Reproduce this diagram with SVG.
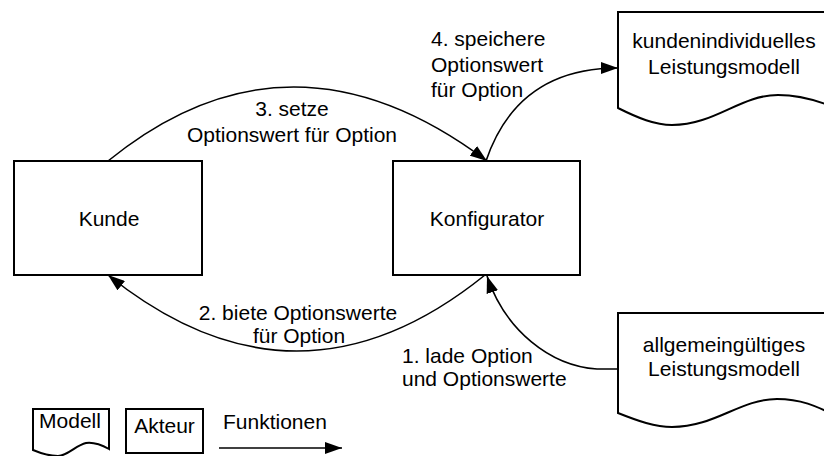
<svg xmlns="http://www.w3.org/2000/svg" width="824" height="456" viewBox="0 0 824 456">
  <style>
    text { font-family: "Liberation Sans", Arial, sans-serif; font-size: 21px; fill: #000; }
    .mid { text-anchor: middle; }
    .shape { fill: #fff; stroke: #000; stroke-width: 2; }
    .edge { fill: none; stroke: #000; stroke-width: 1.6; marker-end: url(#arrow); }
  </style>
  <defs>
    <marker id="arrow" viewBox="0 0 17 12" refX="17" refY="6" markerWidth="17" markerHeight="12" markerUnits="userSpaceOnUse" orient="auto">
      <path d="M0,0 L17,6 L0,12 Z" fill="#000"/>
    </marker>
  </defs>
  <rect width="824" height="456" fill="#fff"/>

  <!-- actors -->
  <g id="kunde">
    <rect class="shape" x="14" y="161" width="188" height="114"/>
    <text class="mid" x="109" y="226">Kunde</text>
  </g>
  <g id="konfigurator">
    <rect class="shape" x="393" y="161" width="187" height="114"/>
    <text class="mid" x="487" y="226">Konfigurator</text>
  </g>

  <!-- data stores (document shapes) -->
  <g id="kundenmodell">
    <path class="shape" d="M618,12 H840 V110 C818,100 800,95 778,95 C740,95 715,125 672,125 C655,125 638,118 618,108 Z"/>
    <text class="mid" x="724" y="48">kundenindividuelles</text>
    <text class="mid" x="724" y="74">Leistungsmodell</text>
  </g>
  <g id="allgemeinmodell">
    <path class="shape" d="M618,313 H840 V418 C815,405 800,399 777,399 C740,399 715,427 672,427 C655,427 638,421 618,413 Z"/>
    <text class="mid" x="724" y="352">allgemeingültiges</text>
    <text class="mid" x="724" y="376">Leistungsmodell</text>
  </g>

  <!-- connectors -->
  <g id="connectors">
    <path class="edge" d="M108,161 Q290,13 487,161"/>
    <path class="edge" d="M486,161 C505,105 545,68 618,68"/>
    <path class="edge" d="M485,275 Q297,427 108,275"/>
    <path class="edge" d="M618,369 L597,369 C550,366 505,330 487,276"/>
  </g>

  <!-- connector labels -->
  <g id="labels">
    <text class="mid" x="292" y="116">3. setze</text>
    <text class="mid" x="292" y="142">Optionswert für Option</text>
    <text x="431" y="46">4. speichere</text>
    <text x="431" y="71.5">Optionswert</text>
    <text x="431" y="97">für Option</text>
    <text class="mid" x="298" y="320">2. biete Optionswerte</text>
    <text class="mid" x="299" y="343">für Option</text>
    <text x="402" y="363">1. lade Option</text>
    <text x="402" y="386">und Optionswerte</text>
  </g>

  <!-- legend -->
  <g id="legend-modell">
    <path class="shape" d="M33,409 H109 V449 C100,444 93,442 86,443 C76,445 68,456 58,456 C48,456 40,453 33,450 Z"/>
    <text class="mid" x="70" y="428">Modell</text>
  </g>
  <g id="legend-akteur">
    <rect class="shape" x="126" y="409" width="77" height="44"/>
    <text class="mid" x="164.5" y="433">Akteur</text>
  </g>
  <g id="legend-funktionen">
    <path class="edge" d="M219,448 H342"/>
    <text x="223" y="429">Funktionen</text>
  </g>
</svg>
